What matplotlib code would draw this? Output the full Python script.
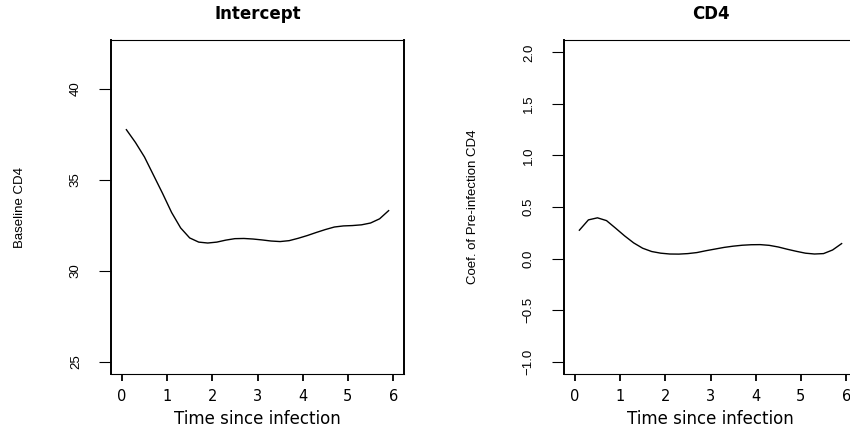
import matplotlib
matplotlib.use('Agg')
import matplotlib.pyplot as plt

# time grid (years since infection)
time = [0.1, 0.3, 0.5, 0.7, 0.9, 1.1, 1.3, 1.5, 1.7, 1.9,
        2.1, 2.3, 2.5, 2.7, 2.9, 3.1, 3.3, 3.5, 3.7, 3.9,
        4.1, 4.3, 4.5, 4.7, 4.9, 5.1, 5.3, 5.5, 5.7, 5.9]

intercept = [37.75, 37.05, 36.25, 35.25, 34.25, 33.2, 32.35, 31.8, 31.57, 31.52,
             31.57, 31.68, 31.76, 31.77, 31.74, 31.69, 31.63, 31.6, 31.65, 31.78,
             31.93, 32.1, 32.26, 32.4, 32.46, 32.48, 32.52, 32.62, 32.85, 33.3]

cd4_coef = [0.275, 0.375, 0.395, 0.368, 0.295, 0.22, 0.152, 0.1, 0.068, 0.052,
            0.044, 0.043, 0.048, 0.058, 0.076, 0.092, 0.108, 0.12, 0.129, 0.134,
            0.135, 0.128, 0.112, 0.09, 0.07, 0.052, 0.044, 0.048, 0.083, 0.145]

titles = ['Intercept', 'CD4']
ylabels = ['Baseline CD4', 'Coef. of Pre-infection CD4']
xticks = [0, 1, 2, 3, 4, 5, 6]
yticks_left = [25, 30, 35, 40]
yticks_right = [-1.0, -0.5, 0.0, 0.5, 1.0, 1.5, 2.0]
ylabels_left = ['25', '30', '35', '40']
ylabels_right = ['\u22121.0', '\u22120.5', '0.0', '0.5', '1.0', '1.5', '2.0']

narrow = ['Liberation Sans Narrow', 'Liberation Sans', 'DejaVu Sans']

fig = plt.figure(figsize=(8.5, 4.3), dpi=100)
ax1 = fig.add_axes([111 / 850, 56 / 430, 293 / 850, 334 / 430])
ax2 = fig.add_axes([564 / 850, 56 / 430, 293 / 850, 334 / 430])

panels = [
    (ax1, intercept, (25, 42), yticks_left, ylabels_left),
    (ax2, cd4_coef, (-1, 2), yticks_right, ylabels_right),
]

for i, (ax, vals, ylim, yt, ytl) in enumerate(panels):
    ax.plot(time, vals, color='black', lw=1.0)

    # R style: 4% padding around the range
    ax.set_xlim(0 - 0.24, 6 + 0.24)
    dy = (ylim[1] - ylim[0]) * 0.04
    ax.set_ylim(ylim[0] - dy, ylim[1] + dy)

    ax.set_xticks(xticks)
    ax.set_xticklabels([str(t) for t in xticks], fontsize=10.5, family='DejaVu Sans')
    ax.set_yticks(yt)
    ax.set_yticklabels(ytl, fontsize=9.5, family=narrow, rotation=90, va='center')

    ax.tick_params(axis='x', direction='out', length=5, width=1.3, pad=6, colors='black')
    ax.tick_params(axis='y', direction='out', length=9, width=0.8, pad=12, colors='black')

    for side in ['left', 'right']:
        ax.spines[side].set_linewidth(1.4)
    for side in ['top', 'bottom']:
        ax.spines[side].set_linewidth(0.8)

    ax.text(0.5, 1.078, titles[i], transform=ax.transAxes, ha='center', va='center',
            fontsize=12, fontweight='bold', family='DejaVu Sans')
    ax.set_xlabel('Time since infection', fontsize=12, family='DejaVu Sans', va='center')
    ax.xaxis.set_label_coords(0.5, -0.135)
    ax.set_ylabel(ylabels[i], fontsize=9.5, family=narrow, va='center')
    ax.yaxis.set_label_coords(-91 / 293, 0.5)

fig.savefig('out.png', dpi=100)
